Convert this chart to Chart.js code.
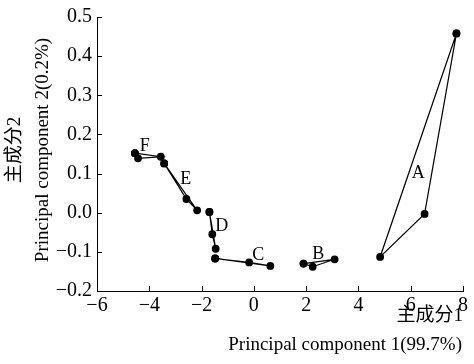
<!DOCTYPE html>
<html>
<head>
<meta charset="utf-8">
<script src="https://cdn.jsdelivr.net/npm/chart.js@4.4.0/dist/chart.umd.min.js"></script>
<style>
  html, body { margin: 0; padding: 0; background: #fff; }
  #wrap { width: 474px; height: 364px; }
</style>
</head>
<body>
<div id="wrap"><canvas id="cnv"></canvas></div>
<script>
// groups of samples, three points each
const groups = ['A', 'B', 'C', 'D', 'E', 'F'];
const pc1 = [
  [7.75, 6.53, 4.83],
  [1.90, 2.25, 3.09],
  [-1.48, -0.18, 0.63],
  [-1.70, -1.59, -1.46],
  [-3.43, -2.58, -2.17],
  [-4.55, -4.43, -3.56]
];
const pc2 = [
  [0.458, -0.003, -0.113],
  [-0.130, -0.138, -0.119],
  [-0.117, -0.127, -0.136],
  [0.002, -0.055, -0.092],
  [0.126, 0.035, 0.006],
  [0.152, 0.139, 0.143]
];
// where the group letters sit
const labelX = [6.29, 2.46, 0.17, -1.23, -2.61, -4.17];
const labelY = [0.101, -0.105, -0.109, -0.034, 0.085, 0.170];

const xTicks = [-6, -4, -2, 0, 2, 4, 6, 8];
const yTicks = [-0.2, -0.1, 0.0, 0.1, 0.2, 0.3, 0.4, 0.5];

const serif = "'Liberation Serif', 'Noto Sans CJK SC', serif";

datasets = groups.map((g, i) => {
  pts = pc1[i].map((x, j) => ({x: x, y: pc2[i][j]}))
  pts.push(pts[0]) // close the triangle
  return {
    label: g,
    data: pts,
    showLine: true,
    borderColor: '#000',
    backgroundColor: '#000',
    borderWidth: 1.2,
    pointRadius: 3.3,
    pointHoverRadius: 3.3
  }
});

const extras = {
  id: 'extras',
  afterDraw(chart) {
    const c = chart.ctx, xs = chart.scales.x, ys = chart.scales.y;
    c.save();
    c.strokeStyle = '#000';
    c.lineWidth = 1;
    // inward tick marks
    xTicks.forEach(v => {
      const px = Math.round(xs.getPixelForValue(v)) + 0.5;
      c.beginPath(); c.moveTo(px, ys.bottom); c.lineTo(px, ys.bottom - 5); c.stroke();
    });
    yTicks.forEach(v => {
      const py = Math.round(ys.getPixelForValue(v)) + 0.5;
      c.beginPath(); c.moveTo(xs.left, py); c.lineTo(xs.left + 5, py); c.stroke();
    });
    // group letters
    c.fillStyle = '#000';
    c.font = '18px ' + serif;
    c.textAlign = 'center';
    c.textBaseline = 'middle';
    groups.forEach((g, i) => {
      c.fillText(g, xs.getPixelForValue(labelX[i]), ys.getPixelForValue(labelY[i]));
    });
    // axis titles
    c.font = '19px ' + serif;
    c.textAlign = 'right';
    c.fillText('主成分1', 463, 316);
    c.fillText('Principal component 1(99.7%)', 462, 345);
    c.translate(15, 150);
    c.rotate(-Math.PI / 2);
    c.textAlign = 'center';
    c.fillText('主成分2', 0, 0);
    c.fillText('Principal component 2(0.2%)', 0, 28);
    c.restore();
  }
};

new Chart(document.getElementById('cnv'), {
  type: 'scatter',
  data: {datasets: datasets},
  options: {
    responsive: true,
    maintainAspectRatio: false,
    animation: false,
    layout: {padding: {top: 13, right: 11, left: 0, bottom: 0}},
    plugins: {legend: {display: false}, tooltip: {enabled: false}},
    scales: {
      x: {
        type: 'linear', min: -6, max: 8,
        afterBuildTicks: s => { s.ticks = xTicks.map(v => ({value: v})) },
        afterFit: s => { s.height = 73 },
        grid: {display: true, drawOnChartArea: false, drawTicks: false},
        border: {display: true, color: '#000', width: 1},
        ticks: {
          color: '#000', padding: 3,
          font: {family: serif, size: 20},
          callback: v => v < 0 ? '\u2212' + Math.abs(v) : String(v)
        }
      },
      y: {
        type: 'linear', min: -0.2, max: 0.5,
        afterBuildTicks: s => { s.ticks = yTicks.map(v => ({value: v})) },
        afterFit: s => { s.width = 97 },
        grid: {display: true, drawOnChartArea: false, drawTicks: false},
        border: {display: true, color: '#000', width: 1},
        ticks: {
          color: '#000', padding: 5,
          font: {family: serif, size: 20},
          callback: v => (v < 0 ? '\u2212' : '') + Math.abs(v).toFixed(1)
        }
      }
    }
  },
  plugins: [extras]
});
</script>
</body>
</html>
